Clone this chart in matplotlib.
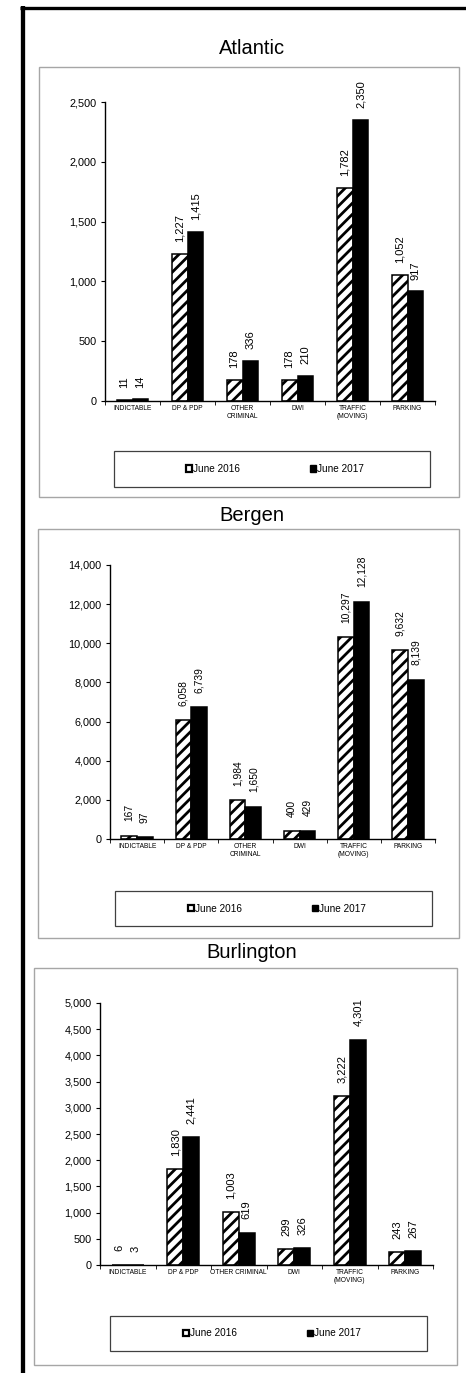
import matplotlib
matplotlib.use("Agg")
import matplotlib.pyplot as plt
from matplotlib.patches import Rectangle, Patch
from matplotlib.lines import Line2D
from matplotlib.ticker import FuncFormatter, MultipleLocator
import numpy as np

plt.rcParams['font.family'] = ['Liberation Sans', 'DejaVu Sans']
plt.rcParams['hatch.linewidth'] = 2.0

# ---------------- data ----------------
series_names = ["June 2016", "June 2017"]

atlantic_cats = ["INDICTABLE", "DP & PDP", "OTHER\nCRIMINAL", "DWI", "TRAFFIC\n(MOVING)", "PARKING"]
atlantic_2016 = [11, 1227, 178, 178, 1782, 1052]
atlantic_2017 = [14, 1415, 336, 210, 2350, 917]

bergen_cats = ["INDICTABLE", "DP & PDP", "OTHER\nCRIMINAL", "DWI", "TRAFFIC\n(MOVING)", "PARKING"]
bergen_2016 = [167, 6058, 1984, 400, 10297, 9632]
bergen_2017 = [97, 6739, 1650, 429, 12128, 8139]

burlington_cats = ["INDICTABLE", "DP & PDP", "OTHER CRIMINAL", "DWI", "TRAFFIC\n(MOVING)", "PARKING"]
burlington_2016 = [6, 1830, 1003, 299, 3222, 243]
burlington_2017 = [3, 2441, 619, 326, 4301, 267]

# ---------------- layout (pixels) ----------------
W, H = 466, 1373
fig = plt.figure(figsize=(W / 100, H / 100), dpi=100)


def fx(x):
    return x / W


def fy(y):
    return 1 - y / H


def rect_px(x0, y0, x1, y1):
    return [fx(x0), fy(y1), (x1 - x0) / W, (y1 - y0) / H]


panels = [
    dict(name="Atlantic", cats=atlantic_cats, v16=atlantic_2016, v17=atlantic_2017,
         ymax=2500, step=500, title_y=49, box=(39, 67, 459, 497),
         ax=(105, 102, 435, 401), leg=(114, 451, 430, 487), lfs=8.0, loff=8.5),
    dict(name="Bergen", cats=bergen_cats, v16=bergen_2016, v17=bergen_2017,
         ymax=14000, step=2000, title_y=515, box=(38, 529, 459, 938),
         ax=(110, 565, 435, 839), leg=(115, 891, 432, 926), lfs=7.4, loff=10.5),
    dict(name="Burlington", cats=burlington_cats, v16=burlington_2016, v17=burlington_2017,
         ymax=5000, step=500, title_y=952, box=(34, 968, 457, 1365),
         ax=(100, 1003, 433, 1265), leg=(110, 1316, 427, 1351), lfs=8.0, loff=9.5),
]

fmt = FuncFormatter(lambda v, p: f"{int(v):,}")
bw = 0.29

for p in panels:
    # panel frame
    bx0, by0, bx1, by1 = p["box"]
    fig.patches.append(Rectangle((fx(bx0), fy(by1)), (bx1 - bx0) / W, (by1 - by0) / H,
                                 transform=fig.transFigure, fill=False,
                                 edgecolor="#a6a6a6", linewidth=1.0))
    # title
    fig.text(fx(252), fy(p["title_y"]), p["name"], ha="center", va="center",
             fontsize=14.5, color="black")

    ax = fig.add_axes(rect_px(*p["ax"]))
    x = np.arange(len(p["cats"]))
    b1 = ax.bar(x - bw / 2, p["v16"], bw, facecolor="white", edgecolor="black",
                hatch="///", linewidth=1.1)
    b2 = ax.bar(x + bw / 2, p["v17"], bw, facecolor="black", edgecolor="black",
                linewidth=1.1)
    for bars, vals in ((b1, p["v16"]), (b2, p["v17"])):
        for r, v in zip(bars, vals):
            ax.annotate(f"{v:,}", (r.get_x() + r.get_width() / 2, r.get_height()),
                        xytext=(0, p["loff"]), textcoords="offset points",
                        rotation=90, ha="center", va="bottom", fontsize=p["lfs"])

    ax.set_xlim(-0.5, len(p["cats"]) - 0.5)
    ax.set_ylim(0, p["ymax"])
    ax.yaxis.set_major_locator(MultipleLocator(p["step"]))
    ax.yaxis.set_major_formatter(fmt)
    ax.set_xticks(x)
    ax.set_xticklabels(p["cats"], fontsize=4.8, linespacing=1.25)
    ax.set_xticks(np.arange(len(p["cats"]) + 1) - 0.5, minor=True)
    ax.tick_params(axis="x", which="major", length=0, pad=3)
    ax.tick_params(axis="x", which="minor", length=3, width=0.6, direction="out")
    ax.tick_params(axis="y", which="major", length=3, width=0.8, direction="out",
                   labelsize=7.8, pad=3)
    for s in ("top", "right"):
        ax.spines[s].set_visible(False)
    for s in ("left", "bottom"):
        ax.spines[s].set_linewidth(1.0)
        ax.spines[s].set_color("black")
    ax.patch.set_alpha(0)

    # legend
    lx0, ly0, lx1, ly1 = p["leg"]
    fig.patches.append(Rectangle((fx(lx0), fy(ly1)), (lx1 - lx0) / W, (ly1 - ly0) / H,
                                 transform=fig.transFigure, fill=False,
                                 edgecolor="#404040", linewidth=0.9))
    handles = [Patch(facecolor="white", edgecolor="black", linewidth=1.6),
               Patch(facecolor="black", edgecolor="black")]
    fig.legend(handles, series_names, loc="center", ncol=2, frameon=False,
               bbox_to_anchor=(fx((lx0 + lx1) / 2 + 3), fy((ly0 + ly1) / 2)),
               fontsize=7.2, handlelength=0.6, handleheight=0.6,
               handletextpad=0.1, columnspacing=7.0, borderpad=0)

# outer thick border (left and top)
fig.add_artist(Line2D([fx(20), fx(466)], [fy(7.5), fy(7.5)], transform=fig.transFigure,
                      color="black", linewidth=2.4, solid_capstyle="butt"))
fig.add_artist(Line2D([fx(22.7), fx(22.7)], [fy(6), fy(1373)], transform=fig.transFigure,
                      color="black", linewidth=3.1, solid_capstyle="butt"))

fig.savefig("out.png", dpi=100)
